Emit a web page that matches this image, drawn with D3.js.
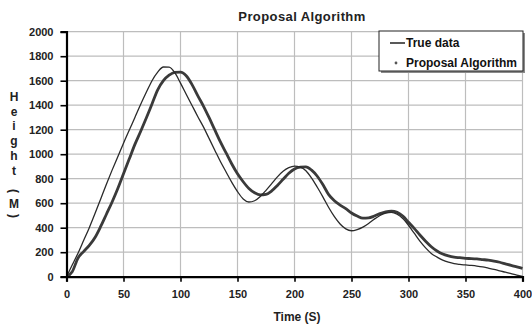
<!DOCTYPE html>
<html>
<head>
<meta charset="utf-8">
<script src="https://cdn.jsdelivr.net/npm/d3@7"></script>
<style>
  body { margin: 0; background: #fff; }
  svg { display: block; font-family: "Liberation Sans", Arial, sans-serif; }
</style>
</head>
<body>
<div id="chart"></div>
<script>
// time axis samples (s)
const timeValues = [
  0, 5, 10, 15, 20, 25, 30, 35, 40, 45, 50, 55, 60, 65, 70, 75, 80, 85, 90, 95,
  100, 105, 110, 115, 120, 125, 130, 135, 140, 145, 150, 155, 160, 165, 170, 175, 180, 185, 190, 195,
  200, 205, 210, 215, 220, 225, 230, 235, 240, 245, 250, 255, 260, 265, 270, 275, 280, 285, 290, 295,
  300, 305, 310, 315, 320, 325, 330, 335, 340, 345, 350, 355, 360, 365, 370, 375, 380, 385, 390, 395, 400
];

// height (m), true data
const trueData = [
  0, 95, 190, 295, 400, 515, 635, 755, 870, 980, 1090, 1195, 1300, 1405, 1505, 1600, 1670, 1712, 1710, 1665,
  1580, 1490, 1400, 1310, 1225, 1130, 1035, 940, 855, 770, 695, 635, 610, 620, 655, 705, 760, 815, 860, 890,
  903, 895, 865, 805, 730, 650, 565, 490, 430, 390, 375, 385, 405, 435, 470, 500, 520, 525, 510, 475,
  420, 355, 290, 235, 190, 160, 135, 118, 106, 100, 96, 92, 87, 80, 70, 60, 48, 37, 25, 13, 3
];

// height (m), proposal algorithm
const proposalData = [
  0, 40, 150, 205, 255, 320, 410, 510, 610, 720, 840, 960, 1080, 1185, 1295, 1410, 1525, 1600, 1645, 1668,
  1670, 1640, 1570, 1480, 1395, 1300, 1200, 1100, 1010, 920, 840, 775, 720, 685, 668, 672, 700, 745, 795, 845,
  880, 895, 897, 870, 820, 750, 670, 620, 585, 555, 520, 495, 478, 480, 495, 515, 530, 535, 525, 495,
  445, 395, 340, 290, 245, 210, 185, 170, 160, 155, 150, 148, 145, 140, 135, 128, 118, 105, 92, 80, 68
];

const xTicks = [0, 50, 100, 150, 200, 250, 300, 350, 400];
const yTicks = [0, 200, 400, 600, 800, 1000, 1200, 1400, 1600, 1800, 2000];
const yLabelChars = ["H", "e", "i", "g", "h", "t", "(", "M", ")"];

const width = 532;
const height = 327;
const margin = { top: 31.7, right: 9.5, bottom: 50.3, left: 66.5 };

const svg = d3.select("#chart")
    .append("svg")
    .attr("width", width)
    .attr("height", height)
    .attr("viewBox", `0 0 ${width} ${height}`);

const x = d3.scaleLinear()
    .domain([0, 400])
    .range([margin.left, width - margin.right]);

const y = d3.scaleLinear()
    .domain([0, 2000])
    .range([height - margin.bottom, margin.top]);

// grid
const grid = svg.append("g").attr("stroke", "#bdbdbd").attr("stroke-width", 1.2);
grid.selectAll("line.v")
    .data(xTicks.filter(d => d > 0))
    .join("line")
    .attr("x1", d => x(d)).attr("x2", d => x(d))
    .attr("y1", y(0)).attr("y2", y(2000));
grid.selectAll("line.h")
    .data(yTicks.filter(d => d > 0))
    .join("line")
    .attr("x1", x(0)).attr("x2", x(400))
    .attr("y1", d => y(d)).attr("y2", d => y(d));

// series
const line = (vals) => d3.line()
    .x((_d, i) => x(timeValues[i]))
    .y(d => y(d))
    .curve(d3.curveMonotoneX)(vals);

svg.append("path")
    .attr("d", line(proposalData))
    .attr("fill", "none")
    .attr("stroke", "#3a3a3a")
    .attr("stroke-width", 2.8)
    .attr("stroke-linejoin", "round");

svg.append("path")
    .attr("d", line(trueData))
    .attr("fill", "none")
    .attr("stroke", "#2a2a2a")
    .attr("stroke-width", 1.3)
    .attr("stroke-linejoin", "round");

// axes
const xAxis = svg.append("g")
    .attr("transform", `translate(0,${y(0)})`)
    .call(d3.axisBottom(x).tickValues(xTicks).tickFormat(d3.format("d")).tickSize(5).tickPadding(9));
const yAxis = svg.append("g")
    .attr("transform", `translate(${x(0)},0)`)
    .call(d3.axisLeft(y).tickValues(yTicks).tickFormat(d3.format("d")).tickSize(6).tickPadding(7));

[xAxis, yAxis].forEach(g => {
    g.select(".domain").attr("stroke", "#000").attr("stroke-width", 2.2);
    g.selectAll(".tick line").attr("stroke", "#000").attr("stroke-width", 1.6);
    g.selectAll(".tick text")
        .attr("fill", "#222")
        .style("font-family", "'Liberation Sans', Arial, sans-serif")
        .style("font-size", "11px")
        .style("font-weight", "bold");
});

// title
svg.append("text")
    .attr("x", 302)
    .attr("y", 16)
    .attr("text-anchor", "middle")
    .attr("dominant-baseline", "central")
    .attr("fill", "#222")
    .style("font-size", "13px")
    .style("font-weight", "bold")
    .style("letter-spacing", "0.4px")
    .text("Proposal Algorithm");

// x label
svg.append("text")
    .attr("x", 297)
    .attr("y", 317)
    .attr("text-anchor", "middle")
    .attr("dominant-baseline", "central")
    .attr("fill", "#222")
    .style("font-size", "12px")
    .style("font-weight", "bold")
    .text("Time (S)");

// y label, stacked letters
const yLabelPos = [97, 112, 126, 141, 156, 171, 191, 204, 216];
svg.append("g")
    .selectAll("text")
    .data(yLabelChars)
    .join("text")
    .attr("transform", (d, i) => {
        const t = `translate(14,${yLabelPos[i]})`;
        return (d === "(" || d === ")") ? t + " rotate(90)" : t;
    })
    .attr("text-anchor", "middle")
    .attr("dominant-baseline", "central")
    .attr("fill", "#222")
    .style("font-size", "12px")
    .style("font-weight", "bold")
    .text(d => d);

// legend
const lg = svg.append("g");
lg.append("rect")
    .attr("x", 381).attr("y", 33).attr("width", 144).attr("height", 40)
    .attr("fill", "#8a8a8a");
lg.append("rect")
    .attr("x", 379).attr("y", 31).attr("width", 144).attr("height", 40)
    .attr("fill", "#fff").attr("stroke", "#222").attr("stroke-width", 1);
lg.append("line")
    .attr("x1", 390).attr("x2", 405).attr("y1", 43).attr("y2", 43)
    .attr("stroke", "#222").attr("stroke-width", 1.5);
lg.append("circle")
    .attr("cx", 396).attr("cy", 63).attr("r", 1.4)
    .attr("fill", "#555");
lg.selectAll("text")
    .data(["True data", "Proposal Algorithm"])
    .join("text")
    .attr("x", 406)
    .attr("y", (d, i) => 43 + i * 20)
    .attr("dominant-baseline", "central")
    .attr("fill", "#111")
    .style("font-size", "12px")
    .style("font-weight", "bold")
    .text(d => d);
</script>
</body>
</html>
